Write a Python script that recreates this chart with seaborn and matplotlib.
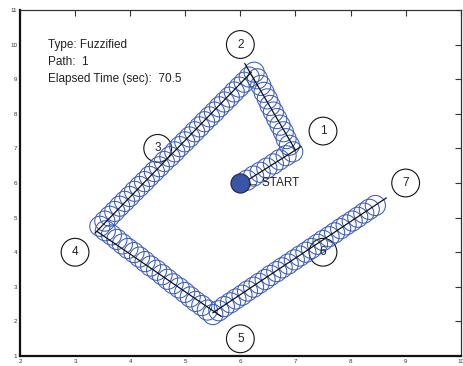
import numpy as np
import pandas as pd
import matplotlib
matplotlib.use("Agg")
import matplotlib.pyplot as plt
import seaborn as sns

sns.set_theme(style="white")
plt.rcParams["font.family"] = ["Liberation Sans", "DejaVu Sans"]

# Robot positions sampled along the run (hollow circles)
path_x = [6.12, 6.24, 6.36, 6.48, 6.60, 6.71, 6.83, 6.95,
          6.89, 6.83, 6.78, 6.72, 6.66, 6.60, 6.54, 6.49, 6.43, 6.37, 6.31, 6.25,
          6.16, 6.07, 5.98, 5.89, 5.80, 5.71, 5.62, 5.53, 5.44, 5.35, 5.26, 5.17,
          5.08, 4.99, 4.90, 4.81, 4.72, 4.62, 4.53, 4.44, 4.35, 4.26, 4.17, 4.08,
          3.99, 3.90, 3.81, 3.72, 3.63, 3.54, 3.45,
          3.55, 3.66, 3.76, 3.86, 3.96, 4.07, 4.17, 4.27, 4.37, 4.48, 4.58, 4.68,
          4.78, 4.89, 4.99, 5.09, 5.19, 5.30, 5.40, 5.50,
          5.61, 5.71, 5.82, 5.92, 6.03, 6.13, 6.24, 6.34, 6.45, 6.55, 6.66, 6.76,
          6.87, 6.98, 7.08, 7.19, 7.29, 7.40, 7.50, 7.61, 7.71, 7.82, 7.92, 8.03,
          8.13, 8.24, 8.34, 8.45]
path_y = [6.08, 6.20, 6.31, 6.43, 6.55, 6.67, 6.79, 6.90,
          7.09, 7.28, 7.48, 7.67, 7.86, 8.05, 8.24, 8.43, 8.62, 8.82, 9.01, 9.20,
          9.06, 8.91, 8.77, 8.63, 8.48, 8.34, 8.20, 8.05, 7.91, 7.77, 7.62, 7.48,
          7.33, 7.19, 7.05, 6.90, 6.76, 6.62, 6.47, 6.33, 6.19, 6.04, 5.90, 5.76,
          5.61, 5.47, 5.33, 5.18, 5.04, 4.90, 4.75,
          4.62, 4.50, 4.37, 4.24, 4.11, 3.99, 3.86, 3.73, 3.60, 3.48, 3.35, 3.22,
          3.09, 2.97, 2.84, 2.71, 2.58, 2.46, 2.33, 2.20,
          2.31, 2.43, 2.54, 2.65, 2.76, 2.88, 2.99, 3.10, 3.21, 3.33, 3.44, 3.55,
          3.66, 3.78, 3.89, 4.00, 4.11, 4.23, 4.34, 4.45, 4.56, 4.68, 4.79, 4.90,
          5.01, 5.13, 5.24, 5.35]

# Heading segments (start/end of each leg)
seg_id = [0, 0, 1, 1, 2, 2, 3, 3, 4, 4]
seg_x = [6.05, 7.10, 6.08, 7.00, 6.20, 3.36, 3.40, 5.65, 5.50, 8.65]
seg_y = [6.00, 7.05, 9.45, 6.95, 9.20, 4.55, 4.60, 2.15, 2.25, 5.57]

# Waypoints
wp_label = ["1", "2", "3", "4", "5", "6", "7"]
wp_x = [7.5, 6.0, 4.5, 3.0, 6.0, 7.5, 9.0]
wp_y = [7.5, 10.0, 7.0, 4.0, 1.5, 4.0, 6.0]

start_x, start_y = [6.0], [6.0]

info_lines = ["Type: Fuzzified", "Path:  1", "Elapsed Time (sec):  70.5"]
info_y = [10.0, 9.5, 9.0]

x_ticks = [2, 3, 4, 5, 6, 7, 8, 9, 10]
y_ticks = [1, 2, 3, 4, 5, 6, 7, 8, 9, 10, 11]

fig = plt.figure(figsize=(4.64, 3.66), dpi=100)
ax = fig.add_axes([0.043, 0.027, 0.950, 0.946])

path_df = pd.DataFrame({"x": path_x, "y": path_y})
seg_df = pd.DataFrame({"seg": seg_id, "x": seg_x, "y": seg_y})
wp_df = pd.DataFrame({"x": wp_x, "y": wp_y, "label": wp_label})

blue = "#3d5cb8"

sns.scatterplot(data=path_df, x="x", y="y", ax=ax, s=210, marker="o",
                facecolors="none", edgecolor=blue, linewidth=0.75, zorder=3)
sns.lineplot(data=seg_df, x="x", y="y", units="seg", estimator=None, sort=False,
             ax=ax, color="#111111", linewidth=0.9, zorder=4)
sns.scatterplot(data=wp_df, x="x", y="y", ax=ax, s=400, marker="o",
                facecolors="none", edgecolor="#111111", linewidth=0.8, zorder=2)
for lx, ly, lt in zip(wp_x, wp_y, wp_label):
    ax.text(lx, ly, lt, ha="center", va="center", fontsize=8.5, color="#222222", zorder=5)

sns.scatterplot(x=start_x, y=start_y, ax=ax, s=190, marker="o",
                color="#3a55a8", edgecolor="#1a2450", linewidth=0.8, zorder=6)
ax.text(start_x[0] + 0.12, start_y[0], "\u2190 START", ha="left", va="center",
        fontsize=8.5, color="#222222", zorder=6)

for t, ty in zip(info_lines, info_y):
    ax.text(2.5, ty, t, ha="left", va="center", fontsize=8.5, color="#222222")

ax.set_xlim(2, 10)
ax.set_ylim(1, 11)
ax.set_xticks(x_ticks)
ax.set_yticks(y_ticks)
ax.set_xlabel("")
ax.set_ylabel("")
ax.tick_params(direction="in", length=4, width=0.8, labelsize=4.5,
               colors="#333333", top=True, right=True, pad=2)
for side in ["left", "bottom"]:
    ax.spines[side].set_linewidth(1.6)
    ax.spines[side].set_color("#111111")
for side in ["top", "right"]:
    ax.spines[side].set_linewidth(0.9)
    ax.spines[side].set_color("#333333")
ax.set_facecolor("white")
fig.patch.set_facecolor("white")

fig.savefig("out.png", dpi=100)
